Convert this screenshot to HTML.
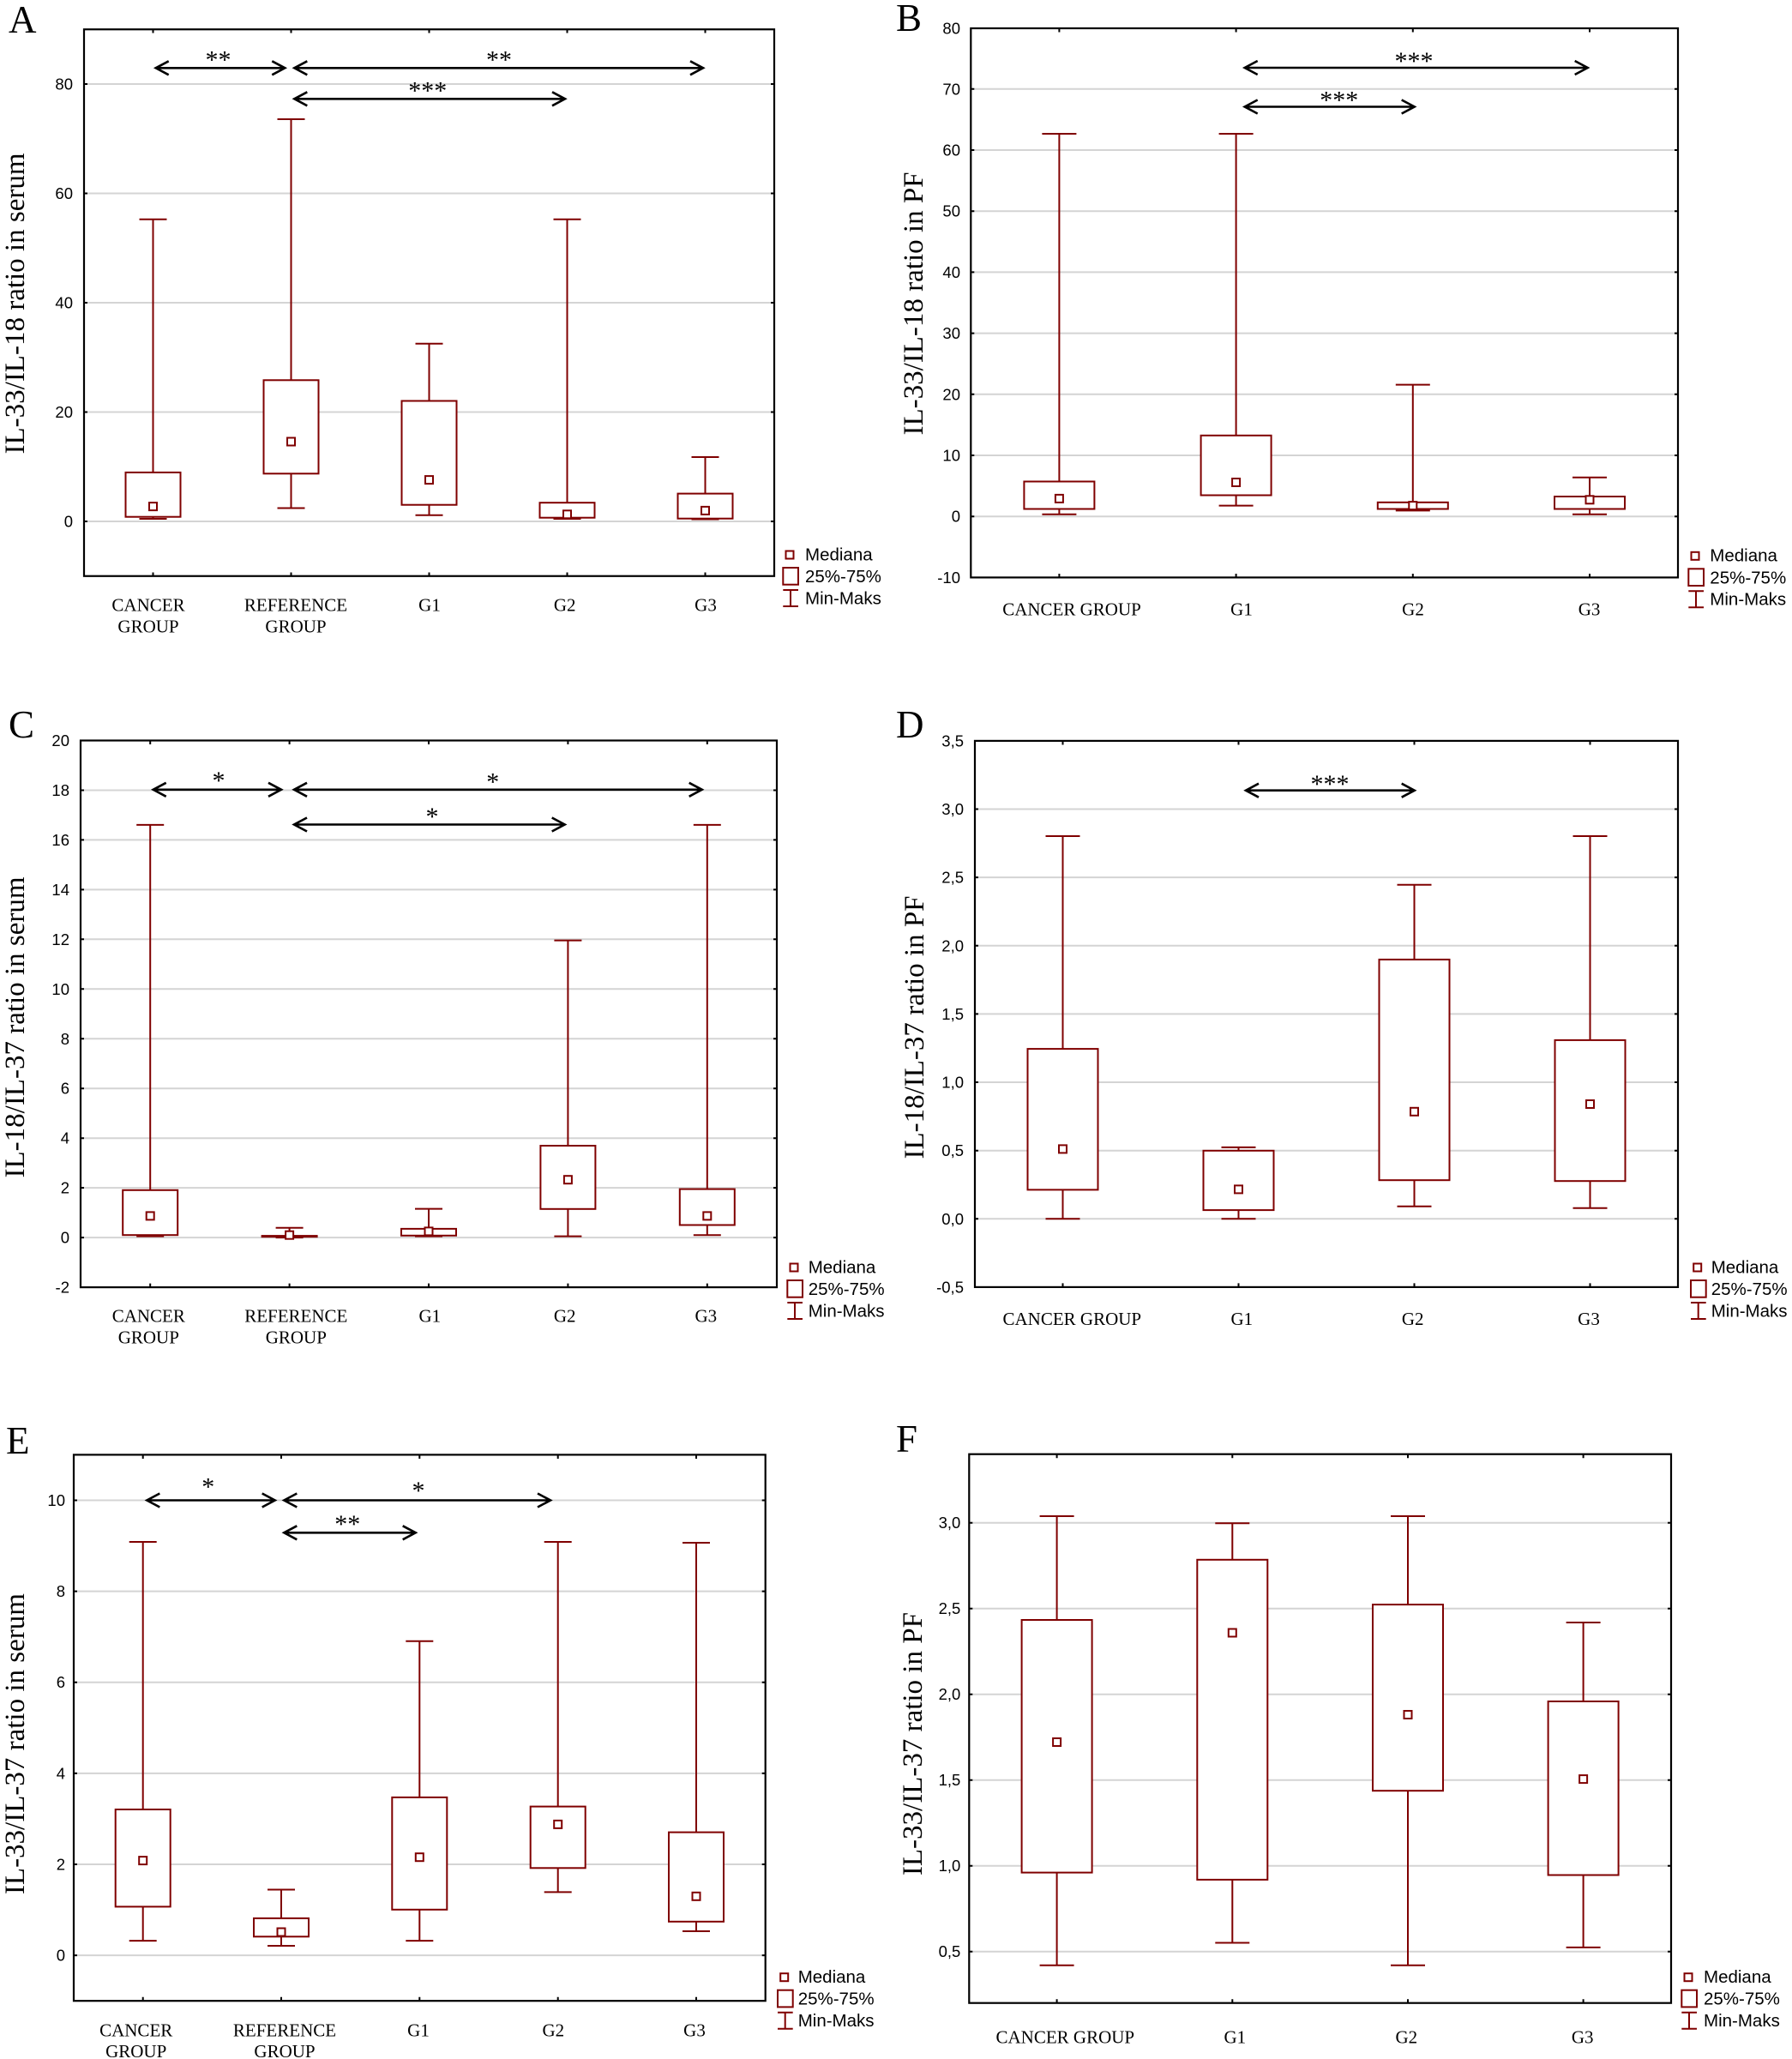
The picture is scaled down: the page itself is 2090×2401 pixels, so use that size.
<!DOCTYPE html>
<html>
<head>
<meta charset="utf-8">
<style>
html,body{margin:0;padding:0;background:#fff;}
svg{display:block;}
.g{stroke:#d4d4d4;stroke-width:2;fill:none}
.fr{fill:none;stroke:#000;stroke-width:2.2}
.tm{stroke:#000;stroke-width:2;fill:none}
.bx{fill:#fff;stroke:#7f0000;stroke-width:2}
.wl{stroke:#7f0000;stroke-width:2;fill:none}
.ar{stroke:#000;stroke-width:2.6;fill:none}
.tk{font-family:"Liberation Sans",sans-serif;font-size:18.5px;text-anchor:end;fill:#000}
.xl{font-family:"Liberation Serif",serif;font-size:21px;text-anchor:middle;fill:#000}
.yt{font-family:"Liberation Serif",serif;font-size:33px;text-anchor:middle;fill:#000}
.pl{font-family:"Liberation Serif",serif;font-size:45px;fill:#000}
.st{font-family:"Liberation Serif",serif;font-size:30px;text-anchor:middle;fill:#000}
.lg{font-family:"Liberation Sans",sans-serif;font-size:20.5px;fill:#000}
</style>
</head>
<body>
<svg width="2090" height="2401" viewBox="0 0 2090 2401" xmlns="http://www.w3.org/2000/svg">
<rect x="0" y="0" width="2090" height="2401" fill="#fff"/>
<defs>
<g id="leg">
<rect x="-4.5" y="-4.5" width="9" height="9" fill="#fff" stroke="#7f0000" stroke-width="2"/>
<rect x="-7.7" y="15" width="17.7" height="19.7" fill="#fff" stroke="#7f0000" stroke-width="2"/>
<path d="M1 41V60M-7.7 41H10M-7.7 60H10" stroke="#7f0000" stroke-width="2" fill="none"/>
</g>
</defs>

<!-- ================= PANEL A ================= -->
<text class="pl" x="10" y="38">A</text>
<text class="yt" transform="translate(28,354) rotate(-90)">IL-33/IL-18 ratio in serum</text>
<path class="g" d="M98 98H903M98 225.5H903M98 353H903M98 480.5H903M98 608H903"/>
<g class="tk">
<text x="85" y="104.5">80</text><text x="85" y="232">60</text><text x="85" y="359.5">40</text><text x="85" y="487">20</text><text x="85" y="614.5">0</text>
</g>
<path class="ar" d="M181.7 79.3H332.3M196.7 71.3L181.7 79.3L196.7 87.3M317.3 71.3L332.3 79.3L317.3 87.3"/>
<path class="ar" d="M343.3 79.3H820M358.3 71.3L343.3 79.3L358.3 87.3M805 71.3L820 79.3L805 87.3"/>
<path class="ar" d="M343.3 115.3H659M358.3 107.3L343.3 115.3L358.3 123.3M644 107.3L659 115.3L644 123.3"/>
<text class="st" x="254.5" y="79.5">**</text>
<text class="st" x="582" y="79.5">**</text>
<text class="st" x="498.7" y="115.5">***</text>
<path class="wl" d="M178.5 255.8V550.9M178.5 602.7V605M162.5 255.8H194.5M162.5 605H194.5"/>
<rect class="bx" x="146.5" y="550.9" width="64" height="51.8"/>
<rect class="bx" x="174" y="586.1" width="9" height="9"/>
<path class="wl" d="M339.5 139V443.3M339.5 552.3V592.5M323.5 139H355.5M323.5 592.5H355.5"/>
<rect class="bx" x="307.5" y="443.3" width="64" height="109"/>
<rect class="bx" x="335" y="510.5" width="9" height="9"/>
<path class="wl" d="M500.5 400.7V467.5M500.5 588.7V600.8M484.5 400.7H516.5M484.5 600.8H516.5"/>
<rect class="bx" x="468.5" y="467.5" width="64" height="121.2"/>
<rect class="bx" x="496" y="555.1" width="9" height="9"/>
<path class="wl" d="M661.5 255.8V586.2M661.5 603.7V605M645.5 255.8H677.5M645.5 605H677.5"/>
<rect class="bx" x="629.5" y="586.2" width="64" height="17.5"/>
<rect class="bx" x="657" y="595.3" width="9" height="9"/>
<path class="wl" d="M822.5 533V575.6M822.5 604.7V605.5M806.5 533H838.5M806.5 605.5H838.5"/>
<rect class="bx" x="790.5" y="575.6" width="64" height="29.1"/>
<rect class="bx" x="818" y="590.9" width="9" height="9"/>
<rect class="fr" x="98" y="34.25" width="805" height="637.5"/>
<path class="tm" d="M178.5 34V38.5M339.5 34V38.5M500.5 34V38.5M661.5 34V38.5M822.5 34V38.5M178.5 672V667.5M339.5 672V667.5M500.5 672V667.5M661.5 672V667.5M822.5 672V667.5M98 98H102M98 225.5H102M98 353H102M98 480.5H102M98 608H102M903 98H899M903 225.5H899M903 353H899M903 480.5H899M903 608H899"/>
<g class="xl">
<text x="173" y="712.7">CANCER</text><text x="173" y="737.3">GROUP</text>
<text x="345" y="712.7">REFERENCE</text><text x="345" y="737.3">GROUP</text>
<text x="501" y="712.7">G1</text><text x="658.7" y="712.7">G2</text><text x="823" y="712.7">G3</text>
</g>
<use href="#leg" x="921" y="647"/>
<g class="lg"><text x="939" y="653.3">Mediana</text><text x="939" y="679">25%-75%</text><text x="939" y="704.3">Min-Maks</text></g>

<!-- ================= PANEL B ================= -->
<text class="pl" x="1045" y="36">B</text>
<text class="yt" transform="translate(1076,354) rotate(-90)">IL-33/IL-18 ratio in PF</text>
<path class="g" d="M1132.3 103.8H1957M1132.3 175H1957M1132.3 246.2H1957M1132.3 317.4H1957M1132.3 388.6H1957M1132.3 459.8H1957M1132.3 531H1957M1132.3 602.2H1957"/>
<g class="tk">
<text x="1120" y="39.5">80</text><text x="1120" y="110.3">70</text><text x="1120" y="181.5">60</text><text x="1120" y="252.7">50</text><text x="1120" y="323.9">40</text><text x="1120" y="395.1">30</text><text x="1120" y="466.3">20</text><text x="1120" y="537.5">10</text><text x="1120" y="608.7">0</text><text x="1120" y="679.9">-10</text>
</g>
<path class="ar" d="M1451.7 79H1851.7M1466.7 71L1451.7 79L1466.7 87M1836.7 71L1851.7 79L1836.7 87"/>
<path class="ar" d="M1451.7 124.5H1649.7M1466.7 116.5L1451.7 124.5L1466.7 132.5M1634.7 116.5L1649.7 124.5L1634.7 132.5"/>
<text class="st" x="1649" y="81">***</text>
<text class="st" x="1561.7" y="126.5">***</text>
<path class="wl" d="M1235.4 156V561.5M1235.4 593.5V599.8M1215.4 156H1255.4M1215.4 599.8H1255.4"/>
<rect class="bx" x="1194.4" y="561.5" width="82" height="32"/>
<rect class="bx" x="1230.9" y="576.9" width="9" height="9"/>
<path class="wl" d="M1441.6 156V507.8M1441.6 577.5V589.6M1421.6 156H1461.6M1421.6 589.6H1461.6"/>
<rect class="bx" x="1400.6" y="507.8" width="82" height="69.7"/>
<rect class="bx" x="1437.1" y="558" width="9" height="9"/>
<path class="wl" d="M1647.8 448.6V585.8M1647.8 593.5V595.4M1627.8 448.6H1667.8M1627.8 595.4H1667.8"/>
<rect class="bx" x="1606.8" y="585.8" width="82" height="7.7"/>
<rect class="bx" x="1643.3" y="585.1" width="9" height="9"/>
<path class="wl" d="M1854 556.7V579M1854 593.5V599.8M1834 556.7H1874M1834 599.8H1874"/>
<rect class="bx" x="1813" y="579" width="82" height="14.5"/>
<rect class="bx" x="1849.5" y="578.3" width="9" height="9"/>
<rect class="fr" x="1132.3" y="33" width="824.7" height="640.4"/>
<path class="tm" d="M1235.4 33V37.5M1441.6 33V37.5M1647.8 33V37.5M1854 33V37.5M1235.4 673.4V669M1441.6 673.4V669M1647.8 673.4V669M1854 673.4V669M1132.3 103.8H1136.3M1132.3 175H1136.3M1132.3 246.2H1136.3M1132.3 317.4H1136.3M1132.3 388.6H1136.3M1132.3 459.8H1136.3M1132.3 531H1136.3M1132.3 602.2H1136.3M1957 103.8H1953M1957 175H1953M1957 246.2H1953M1957 317.4H1953M1957 388.6H1953M1957 459.8H1953M1957 531H1953M1957 602.2H1953"/>
<g class="xl">
<text x="1250" y="717.3">CANCER GROUP</text><text x="1448" y="717.3">G1</text><text x="1648" y="717.3">G2</text><text x="1853.6" y="717.3">G3</text>
</g>
<use href="#leg" x="1977" y="648.3"/>
<g class="lg"><text x="1994.3" y="654.6">Mediana</text><text x="1994.3" y="680.3">25%-75%</text><text x="1994.3" y="705.6">Min-Maks</text></g>

<!-- ================= PANEL C ================= -->
<text class="pl" x="10" y="860">C</text>
<text class="yt" transform="translate(28,1198) rotate(-90)">IL-18/IL-37 ratio in serum</text>
<path class="g" d="M94 921.5H906M94 979.4H906M94 1037.4H906M94 1095.3H906M94 1153.3H906M94 1211.3H906M94 1269.2H906M94 1327.2H906M94 1385.1H906M94 1443.1H906"/>
<g class="tk">
<text x="81" y="870">20</text><text x="81" y="928">18</text><text x="81" y="985.9">16</text><text x="81" y="1043.9">14</text><text x="81" y="1101.8">12</text><text x="81" y="1159.8">10</text><text x="81" y="1217.8">8</text><text x="81" y="1275.7">6</text><text x="81" y="1333.7">4</text><text x="81" y="1391.6">2</text><text x="81" y="1449.6">0</text><text x="81" y="1507.6">-2</text>
</g>
<path class="ar" d="M178.7 920.8H328M193.7 912.8L178.7 920.8L193.7 928.8M313 912.8L328 920.8L313 928.8"/>
<path class="ar" d="M343 920.8H818.7M358 912.8L343 920.8L358 928.8M803.7 912.8L818.7 920.8L803.7 928.8"/>
<path class="ar" d="M343 961.5H658.7M358 953.5L343 961.5L358 969.5M643.7 953.5L658.7 961.5L643.7 969.5"/>
<text class="st" x="255" y="920">*</text>
<text class="st" x="574.7" y="921.5">*</text>
<text class="st" x="504" y="962">*</text>
<path class="wl" d="M175.2 961.9V1387.8M175.2 1440.2V1441.6M159.2 961.9H191.2M159.2 1441.6H191.2"/>
<rect class="bx" x="143.2" y="1387.8" width="64" height="52.4"/>
<rect class="bx" x="170.7" y="1413.4" width="9" height="9"/>
<path class="wl" d="M337.6 1431.8V1441.1M321.6 1431.8H353.6M321.6 1443.1H353.6"/>
<rect class="bx" x="305.6" y="1441.1" width="64" height="1.1"/>
<rect class="bx" x="333.1" y="1435.7" width="9" height="9"/>
<path class="wl" d="M500 1409.6V1432.9M500 1440.8V1441.6M484 1409.6H516M484 1441.6H516"/>
<rect class="bx" x="468" y="1432.9" width="64" height="7.9"/>
<rect class="bx" x="495.5" y="1431.4" width="9" height="9"/>
<path class="wl" d="M662.4 1096.6V1336M662.4 1409.8V1441.6M646.4 1096.6H678.4M646.4 1441.6H678.4"/>
<rect class="bx" x="630.4" y="1336" width="64" height="73.8"/>
<rect class="bx" x="657.9" y="1371.2" width="9" height="9"/>
<path class="wl" d="M824.8 961.9V1386.6M824.8 1428.5V1440.2M808.8 961.9H840.8M808.8 1440.2H840.8"/>
<rect class="bx" x="792.8" y="1386.6" width="64" height="41.9"/>
<rect class="bx" x="820.3" y="1413.4" width="9" height="9"/>
<rect class="fr" x="94" y="863.5" width="812" height="637.6"/>
<path class="tm" d="M175.2 863.5V868M337.6 863.5V868M500 863.5V868M662.4 863.5V868M824.8 863.5V868M175.2 1501.1V1496.6M337.6 1501.1V1496.6M500 1501.1V1496.6M662.4 1501.1V1496.6M824.8 1501.1V1496.6M94 921.5H98M94 979.4H98M94 1037.4H98M94 1095.3H98M94 1153.3H98M94 1211.3H98M94 1269.2H98M94 1327.2H98M94 1385.1H98M94 1443.1H98M906 921.5H902M906 979.4H902M906 1037.4H902M906 1095.3H902M906 1153.3H902M906 1211.3H902M906 1269.2H902M906 1327.2H902M906 1385.1H902M906 1443.1H902"/>
<g class="xl">
<text x="173.3" y="1541.7">CANCER</text><text x="173.3" y="1566.3">GROUP</text>
<text x="345.3" y="1541.7">REFERENCE</text><text x="345.3" y="1566.3">GROUP</text>
<text x="501.3" y="1541.7">G1</text><text x="658.7" y="1541.7">G2</text><text x="823.3" y="1541.7">G3</text>
</g>
<use href="#leg" x="926" y="1478"/>
<g class="lg"><text x="942.7" y="1484.3">Mediana</text><text x="942.7" y="1510">25%-75%</text><text x="942.7" y="1535.3">Min-Maks</text></g>

<!-- ================= PANEL D ================= -->
<text class="pl" x="1045" y="860">D</text>
<text class="yt" transform="translate(1077,1198) rotate(-90)">IL-18/IL-37 ratio in PF</text>
<path class="g" d="M1137 943.5H1957M1137 1023.1H1957M1137 1102.8H1957M1137 1182.4H1957M1137 1262H1957M1137 1341.7H1957M1137 1421.3H1957"/>
<g class="tk">
<text x="1124" y="870.4">3,5</text><text x="1124" y="950">3,0</text><text x="1124" y="1029.6">2,5</text><text x="1124" y="1109.3">2,0</text><text x="1124" y="1188.9">1,5</text><text x="1124" y="1268.5">1,0</text><text x="1124" y="1348.2">0,5</text><text x="1124" y="1427.8">0,0</text><text x="1124" y="1507.4">-0,5</text>
</g>
<path class="ar" d="M1453 921.7H1649.7M1468 913.7L1453 921.7L1468 929.7M1634.7 913.7L1649.7 921.7L1634.7 929.7"/>
<text class="st" x="1551" y="924">***</text>
<path class="wl" d="M1239.5 975V1223.1M1239.5 1387.4V1421.3M1219.5 975H1259.5M1219.5 1421.3H1259.5"/>
<rect class="bx" x="1198.5" y="1223.1" width="82" height="164.3"/>
<rect class="bx" x="1235" y="1335.4" width="9" height="9"/>
<path class="wl" d="M1444.5 1337.9V1341.8M1444.5 1411.1V1421.3M1424.5 1337.9H1464.5M1424.5 1421.3H1464.5"/>
<rect class="bx" x="1403.5" y="1341.8" width="82" height="69.3"/>
<rect class="bx" x="1440" y="1382.4" width="9" height="9"/>
<path class="wl" d="M1649.5 1031.7V1118.9M1649.5 1376.2V1406.7M1629.5 1031.7H1669.5M1629.5 1406.7H1669.5"/>
<rect class="bx" x="1608.5" y="1118.9" width="82" height="257.3"/>
<rect class="bx" x="1645" y="1291.8" width="9" height="9"/>
<path class="wl" d="M1854.5 975V1212.9M1854.5 1377.2V1408.7M1834.5 975H1874.5M1834.5 1408.7H1874.5"/>
<rect class="bx" x="1813.5" y="1212.9" width="82" height="164.3"/>
<rect class="bx" x="1850" y="1283" width="9" height="9"/>
<rect class="fr" x="1137" y="863.9" width="820" height="637"/>
<path class="tm" d="M1239.5 864V868.5M1444.5 864V868.5M1649.5 864V868.5M1854.5 864V868.5M1239.5 1500.9V1496.4M1444.5 1500.9V1496.4M1649.5 1500.9V1496.4M1854.5 1500.9V1496.4M1137 943.5H1141M1137 1023.1H1141M1137 1102.8H1141M1137 1182.4H1141M1137 1262H1141M1137 1341.7H1141M1137 1421.3H1141M1957 943.5H1953M1957 1023.1H1953M1957 1102.8H1953M1957 1182.4H1953M1957 1262H1953M1957 1341.7H1953M1957 1421.3H1953"/>
<g class="xl">
<text x="1250.3" y="1545">CANCER GROUP</text><text x="1448.3" y="1545">G1</text><text x="1647.7" y="1545">G2</text><text x="1853" y="1545">G3</text>
</g>
<use href="#leg" x="1979.7" y="1478"/>
<g class="lg"><text x="1995.7" y="1484.3">Mediana</text><text x="1995.7" y="1510">25%-75%</text><text x="1995.7" y="1535.3">Min-Maks</text></g>

<!-- ================= PANEL E ================= -->
<text class="pl" x="7" y="1695">E</text>
<text class="yt" transform="translate(28,2033.6) rotate(-90)">IL-33/IL-37 ratio in serum</text>
<path class="g" d="M86 1749.5H892.7M86 1855.6H892.7M86 1961.7H892.7M86 2067.9H892.7M86 2174H892.7M86 2280.1H892.7"/>
<g class="tk">
<text x="76" y="1756">10</text><text x="76" y="1862.1">8</text><text x="76" y="1968.2">6</text><text x="76" y="2074.4">4</text><text x="76" y="2180.5">2</text><text x="76" y="2286.6">0</text>
</g>
<path class="ar" d="M171.3 1749.5H320.7M186.3 1741.5L171.3 1749.5L186.3 1757.5M305.7 1741.5L320.7 1749.5L305.7 1757.5"/>
<path class="ar" d="M331.3 1749.5H642M346.3 1741.5L331.3 1749.5L346.3 1757.5M627 1741.5L642 1749.5L627 1757.5"/>
<path class="ar" d="M331.3 1787.3H484.7M346.3 1779.3L331.3 1787.3L346.3 1795.3M469.7 1779.3L484.7 1787.3L469.7 1795.3"/>
<text class="st" x="242.7" y="1743.5">*</text>
<text class="st" x="488" y="1748">*</text>
<text class="st" x="405.3" y="1787">**</text>
<path class="wl" d="M166.7 1798V2110M166.7 2223.4V2263.1M150.7 1798H182.7M150.7 2263.1H182.7"/>
<rect class="bx" x="134.7" y="2110" width="64" height="113.4"/>
<rect class="bx" x="162.2" y="2165.1" width="9" height="9"/>
<path class="wl" d="M328 2203.5V2236.9M328 2258.3V2269M312 2203.5H344M312 2269H344"/>
<rect class="bx" x="296" y="2236.9" width="64" height="21.4"/>
<rect class="bx" x="323.5" y="2248.5" width="9" height="9"/>
<path class="wl" d="M489.3 1913.8V2095.9M489.3 2226.8V2263.1M473.3 1913.8H505.3M473.3 2263.1H505.3"/>
<rect class="bx" x="457.3" y="2095.9" width="64" height="130.9"/>
<rect class="bx" x="484.8" y="2161.2" width="9" height="9"/>
<path class="wl" d="M650.7 1798V2106.6M650.7 2178.3V2206.4M634.7 1798H666.7M634.7 2206.4H666.7"/>
<rect class="bx" x="618.7" y="2106.6" width="64" height="71.7"/>
<rect class="bx" x="646.2" y="2122.9" width="9" height="9"/>
<path class="wl" d="M812 1799V2136.6M812 2240.8V2252M796 1799H828M796 2252H828"/>
<rect class="bx" x="780" y="2136.6" width="64" height="104.2"/>
<rect class="bx" x="807.5" y="2206.8" width="9" height="9"/>
<rect class="fr" x="86" y="1696.4" width="806.7" height="636.8"/>
<path class="tm" d="M166.7 1696.4V1701M328 1696.4V1701M489.3 1696.4V1701M650.7 1696.4V1701M812 1696.4V1701M166.7 2333.2V2328.7M328 2333.2V2328.7M489.3 2333.2V2328.7M650.7 2333.2V2328.7M812 2333.2V2328.7M86 1749.5H90M86 1855.6H90M86 1961.7H90M86 2067.9H90M86 2174H90M86 2280.1H90M892.7 1749.5H888.7M892.7 1855.6H888.7M892.7 1961.7H888.7M892.7 2067.9H888.7M892.7 2174H888.7M892.7 2280.1H888.7"/>
<g class="xl">
<text x="158.7" y="2374.5">CANCER</text><text x="158.7" y="2399">GROUP</text>
<text x="332" y="2374.5">REFERENCE</text><text x="332" y="2399">GROUP</text>
<text x="488" y="2374.5">G1</text><text x="645.3" y="2374.5">G2</text><text x="810" y="2374.5">G3</text>
</g>
<use href="#leg" x="914.7" y="2305.7"/>
<g class="lg"><text x="930.7" y="2312">Mediana</text><text x="930.7" y="2337.7">25%-75%</text><text x="930.7" y="2363">Min-Maks</text></g>

<!-- ================= PANEL F ================= -->
<text class="pl" x="1045" y="1693">F</text>
<text class="yt" transform="translate(1075,2033.6) rotate(-90)">IL-33/IL-37 ratio in PF</text>
<path class="g" d="M1130.3 1775.7H1949M1130.3 1875.7H1949M1130.3 1975.7H1949M1130.3 2075.7H1949M1130.3 2175.7H1949M1130.3 2275.7H1949"/>
<g class="tk">
<text x="1120.3" y="1782.2">3,0</text><text x="1120.3" y="1882.2">2,5</text><text x="1120.3" y="1982.2">2,0</text><text x="1120.3" y="2082.2">1,5</text><text x="1120.3" y="2182.2">1,0</text><text x="1120.3" y="2282.2">0,5</text>
</g>
<path class="wl" d="M1232.6 1768V1889M1232.6 2183.6V2291.7M1212.6 1768H1252.6M1212.6 2291.7H1252.6"/>
<rect class="bx" x="1191.6" y="1889" width="82" height="294.6"/>
<rect class="bx" x="1228.1" y="2027" width="9" height="9"/>
<path class="wl" d="M1437.3 1776.2V1818.8M1437.3 2191.9V2265.5M1417.3 1776.2H1457.3M1417.3 2265.5H1457.3"/>
<rect class="bx" x="1396.3" y="1818.8" width="82" height="373.1"/>
<rect class="bx" x="1432.8" y="1899.5" width="9" height="9"/>
<path class="wl" d="M1642 1768V1871.1M1642 2088.2V2291.7M1622 1768H1662M1622 2291.7H1662"/>
<rect class="bx" x="1601" y="1871.1" width="82" height="217.1"/>
<rect class="bx" x="1637.5" y="1995" width="9" height="9"/>
<path class="wl" d="M1846.6 1892V1984M1846.6 2186.5V2270.9M1826.6 1892H1866.6M1826.6 2270.9H1866.6"/>
<rect class="bx" x="1805.6" y="1984" width="82" height="202.5"/>
<rect class="bx" x="1842.1" y="2070.1" width="9" height="9"/>
<rect class="fr" x="1130.3" y="1695.7" width="818.7" height="640"/>
<path class="tm" d="M1232.6 1695.7V1700.2M1437.3 1695.7V1700.2M1642 1695.7V1700.2M1846.6 1695.7V1700.2M1232.6 2335.7V2331.2M1437.3 2335.7V2331.2M1642 2335.7V2331.2M1846.6 2335.7V2331.2M1130.3 1775.7H1134.3M1130.3 1875.7H1134.3M1130.3 1975.7H1134.3M1130.3 2075.7H1134.3M1130.3 2175.7H1134.3M1130.3 2275.7H1134.3M1949 1775.7H1945M1949 1875.7H1945M1949 1975.7H1945M1949 2075.7H1945M1949 2175.7H1945M1949 2275.7H1945"/>
<g class="xl">
<text x="1242.3" y="2382.5">CANCER GROUP</text><text x="1440.3" y="2382.5">G1</text><text x="1640.3" y="2382.5">G2</text><text x="1845.7" y="2382.5">G3</text>
</g>
<use href="#leg" x="1969" y="2305.7"/>
<g class="lg"><text x="1987" y="2312">Mediana</text><text x="1987" y="2337.7">25%-75%</text><text x="1987" y="2363">Min-Maks</text></g>
</svg>
</body>
</html>
